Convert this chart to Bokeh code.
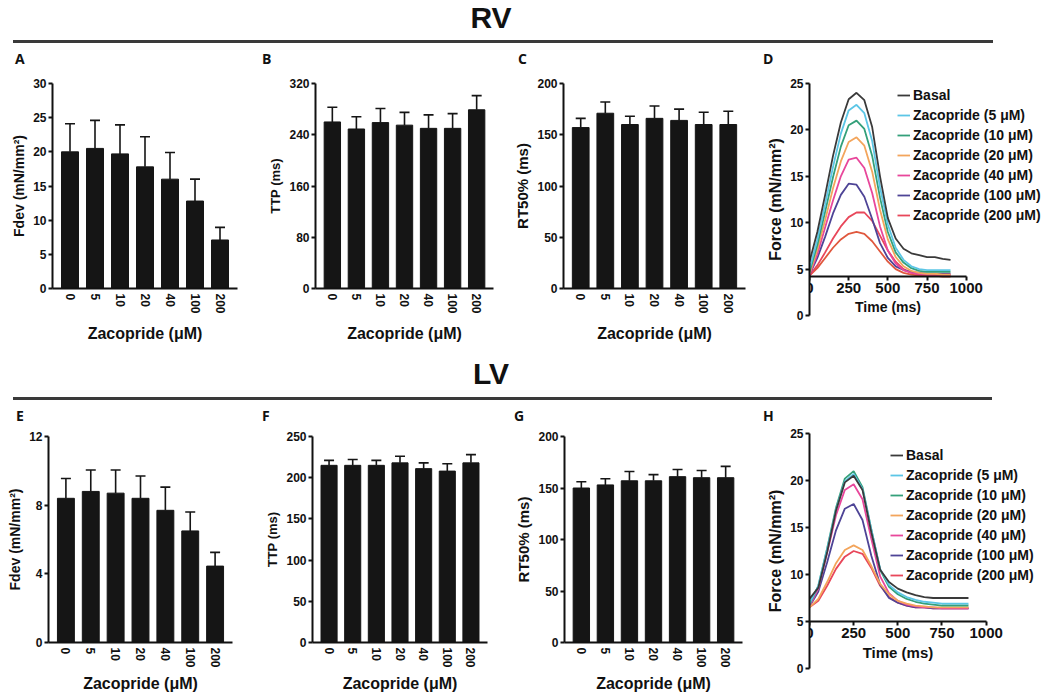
from bokeh.plotting import figure
from bokeh.models import (ColumnDataSource, FactorRange, Range1d, FixedTicker, Whisker,
                          TeeHead, Legend, LegendItem, Div)
from bokeh.layouts import column, row
from bokeh.embed import file_html
from bokeh.resources import INLINE

# ---------------- data ----------------
doses = ["0", "5", "10", "20", "40", "100", "200"]

rv_fdev_mean = [20.0, 20.5, 19.7, 17.8, 16.0, 12.8, 7.1]
rv_fdev_err = [4.1, 4.1, 4.25, 4.4, 3.9, 3.2, 1.85]
rv_ttp_mean = [260, 249, 259, 255, 250, 250, 279]
rv_ttp_err = [23, 19, 22, 20, 21, 23, 22]
rv_rt50_mean = [157, 171, 160, 166, 164, 160, 160]
rv_rt50_err = [9, 11, 8, 12, 11, 12, 13]

lv_fdev_mean = [8.4, 8.8, 8.7, 8.4, 7.7, 6.5, 4.45]
lv_fdev_err = [1.15, 1.25, 1.35, 1.3, 1.35, 1.1, 0.8]
lv_ttp_mean = [215, 215, 215, 218, 211, 208, 218]
lv_ttp_err = [6, 7, 6, 8, 7, 9, 10]
lv_rt50_mean = [150, 153, 157, 157, 161, 160, 160]
lv_rt50_err = [6, 6, 9, 6, 7, 7, 11]

time_ms = [0, 50, 100, 150, 200, 250, 300, 350, 400, 450, 500, 550, 600, 650, 700, 750, 800, 850, 900]

rv_basal = [5.8, 9.0, 13.0, 17.2, 20.8, 23.3, 24.0, 23.2, 20.3, 15.0, 10.5, 8.3, 7.2, 6.7, 6.5, 6.3, 6.3, 6.1, 6.0]
rv_z5 = [5.0, 8.2, 12.0, 16.0, 19.6, 22.1, 22.7, 21.8, 18.8, 13.8, 9.8, 7.3, 6.0, 5.3, 5.0, 4.9, 4.9, 4.9, 4.9]
rv_z10 = [4.7, 7.6, 11.2, 14.9, 18.2, 20.5, 21.0, 20.1, 17.2, 12.7, 9.0, 6.8, 5.7, 5.1, 4.8, 4.7, 4.7, 4.7, 4.7]
rv_z20 = [4.5, 7.1, 10.3, 13.7, 16.6, 18.7, 19.2, 18.3, 15.5, 11.4, 8.2, 6.3, 5.3, 4.8, 4.6, 4.5, 4.5, 4.4, 4.4]
rv_z40 = [4.4, 6.6, 9.5, 12.4, 15.0, 16.8, 17.0, 15.9, 13.2, 9.6, 7.0, 5.6, 4.9, 4.6, 4.5, 4.4, 4.4, 4.4, 4.4]
rv_z100 = [4.4, 6.2, 8.5, 11.0, 13.0, 14.2, 14.1, 12.8, 10.4, 7.8, 6.2, 5.3, 4.9, 4.7, 4.6, 4.5, 4.5, 4.5, 4.5]
rv_z200 = [4.3, 5.4, 6.8, 8.3, 9.6, 10.6, 11.1, 11.1, 10.2, 8.6, 7.0, 5.8, 5.0, 4.6, 4.4, 4.3, 4.3, 4.3, 4.3]
rv_extra = [4.3, 5.1, 6.2, 7.3, 8.2, 8.8, 9.0, 8.8, 8.0, 6.9, 5.8, 5.0, 4.6, 4.4, 4.3, 4.3, 4.3, 4.2, 4.2]

lv_basal = [7.4, 8.6, 12.4, 16.8, 19.8, 20.5, 19.0, 14.5, 10.5, 9.2, 8.5, 8.1, 7.8, 7.6, 7.5, 7.5, 7.5, 7.5, 7.5]
lv_z5 = [6.9, 8.8, 12.7, 16.9, 19.9, 20.7, 19.1, 14.8, 10.6, 8.9, 8.1, 7.6, 7.3, 7.1, 7.0, 6.9, 6.9, 6.9, 6.9]
lv_z10 = [6.8, 8.8, 12.8, 17.1, 20.2, 21.0, 19.3, 14.8, 10.5, 8.7, 7.9, 7.4, 7.1, 6.9, 6.8, 6.7, 6.7, 6.7, 6.7]
lv_z20 = [6.5, 7.4, 9.2, 11.2, 12.6, 13.1, 12.6, 10.9, 9.0, 7.9, 7.2, 6.9, 6.7, 6.6, 6.5, 6.5, 6.5, 6.5, 6.5]
lv_z40 = [6.6, 8.5, 12.3, 16.3, 19.0, 19.6, 18.0, 13.8, 9.8, 8.0, 7.2, 6.8, 6.6, 6.5, 6.5, 6.4, 6.4, 6.4, 6.4]
lv_z100 = [6.6, 8.2, 11.3, 14.7, 17.0, 17.5, 15.8, 12.0, 8.9, 7.5, 7.0, 6.7, 6.5, 6.5, 6.4, 6.4, 6.4, 6.4, 6.4]
lv_z200 = [6.5, 7.2, 8.8, 10.6, 11.9, 12.5, 12.2, 10.7, 8.8, 7.6, 7.0, 6.7, 6.5, 6.5, 6.4, 6.4, 6.4, 6.4, 6.4]

legend_labels = ["Basal", "Zacopride (5 \u03bcM)", "Zacopride (10 \u03bcM)", "Zacopride (20 \u03bcM)",
                 "Zacopride (40 \u03bcM)", "Zacopride (100 \u03bcM)", "Zacopride (200 \u03bcM)"]
curve_colors = ["#3a3a3a", "#5cc6e6", "#34a07a", "#f3a55c", "#e8479b", "#4e4496", "#e8475a"]
extra_color = "#e0583e"

FONT = "Liberation Sans"
INK = "#111111"
XLABEL = "Zacopride (\u03bcM)"


def base_style(p):
    p.outline_line_color = None
    p.xgrid.grid_line_color = None
    p.ygrid.grid_line_color = None
    p.background_fill_color = "white"
    p.border_fill_color = "white"
    for ax in (p.xaxis[0], p.yaxis[0]):
        ax.axis_line_width = 2
        ax.axis_line_color = INK
        ax.major_tick_line_width = 2
        ax.major_tick_line_color = INK
        ax.major_tick_out = 4
        ax.major_tick_in = 0
        ax.minor_tick_line_color = None
        ax.major_label_text_font = FONT
        ax.major_label_text_font_style = "bold"
        ax.major_label_text_color = INK
        ax.axis_label_text_font = FONT
        ax.axis_label_text_font_style = "bold"
        ax.axis_label_text_color = INK


def bar_panel(means, errs, ymax, ticks, ylabel, ylabel_size, bl, fw, br, bt, fh, bb, xlab_standoff):
    p = figure(x_range=FactorRange(factors=doses, range_padding=0.2, range_padding_units="absolute"),
               y_range=Range1d(0, ymax), width=bl + fw + br, height=bt + fh + bb,
               min_border_left=bl, min_border_right=br, min_border_top=bt, min_border_bottom=bb,
               toolbar_location=None, tools="", output_backend="svg")
    base_style(p)
    src = ColumnDataSource(dict(dose=doses, mean=means, upper=[m + e for m, e in zip(means, errs)]))
    p.vbar(x="dose", top="mean", bottom=0, width=0.68, source=src,
           fill_color="#151515", line_color="#151515", line_width=1)
    p.add_layout(Whisker(base="dose", lower="mean", upper="upper", source=src, lower_head=None,
                         upper_head=TeeHead(size=10, line_width=1.6, line_color="#151515"),
                         line_width=1.6, line_color="#151515"))
    p.yaxis.ticker = FixedTicker(ticks=ticks)
    p.yaxis.axis_label = ylabel
    p.yaxis.axis_label_text_font_size = ylabel_size
    p.yaxis.major_label_text_font_size = "12px"
    p.yaxis.major_label_standoff = 2
    p.yaxis.axis_label_standoff = 3
    p.xaxis.axis_label = XLABEL
    p.xaxis.axis_label_text_font_size = "16px"
    p.xaxis.major_label_text_font_size = "12px"
    p.xaxis.major_label_orientation = "vertical"
    p.xaxis.major_tick_line_color = None
    p.xaxis.major_tick_out = 0
    p.xaxis.major_label_standoff = 5
    p.xaxis.axis_label_standoff = xlab_standoff
    return p


def curve_panel(series, extra, xaxis_at, x_end, bl, fw, bt, fh, bb, ylabel_size, xlabel_size, leg_loc,
                fixed_frame=False):
    kw = dict(x_range=Range1d(0, x_end), y_range=Range1d(0, 25),
              min_border_left=bl, min_border_right=0, min_border_top=bt, min_border_bottom=bb,
              toolbar_location=None, tools="", output_backend="svg")
    if fixed_frame:
        kw.update(frame_width=fw, frame_height=fh)
    else:
        kw.update(width=bl + fw, height=bt + fh + bb)
    p = figure(**kw)
    base_style(p)
    p.xaxis.fixed_location = xaxis_at
    p.xaxis.bounds = (0, 1000)
    p.xaxis.ticker = FixedTicker(ticks=[0, 250, 500, 750, 1000])
    p.yaxis.ticker = FixedTicker(ticks=[0, 5, 10, 15, 20, 25])
    p.yaxis.axis_label = "Force (mN/mm\u00b2)"
    p.yaxis.axis_label_text_font_size = ylabel_size
    p.yaxis.major_label_text_font_size = "12px"
    p.yaxis.major_label_standoff = 2
    p.yaxis.axis_label_standoff = 3
    p.xaxis.axis_label = "Time (ms)"
    p.xaxis.axis_label_text_font_size = xlabel_size
    p.xaxis.major_label_text_font_size = "15px"
    p.xaxis.major_label_standoff = 2
    p.xaxis.axis_label_standoff = 3
    if extra is not None:
        p.line(time_ms, extra, line_color=extra_color, line_width=1.8)
    items = []
    for lab, col, ys in reversed(list(zip(legend_labels, curve_colors, series))):
        r = p.line(time_ms, ys, line_color=col, line_width=1.8)
        items.insert(0, LegendItem(label=lab, renderers=[r]))
    leg = Legend(items=items, location=leg_loc, glyph_width=13, glyph_height=20, label_height=20,
                 spacing=0, padding=0, margin=0, label_standoff=3, border_line_color=None,
                 background_fill_alpha=0, label_text_font=FONT, label_text_font_style="bold",
                 label_text_font_size="14px", label_text_color=INK)
    p.add_layout(leg)
    return p


# ---------------- headers (titles, rules, panel letters) ----------------
def big_text(text, top):
    return (f"<div style='position:absolute;left:0;top:{top}px;width:982px;text-align:center;"
            f"font-family:\"Liberation Sans\";font-weight:bold;font-size:30px;line-height:normal;"
            f"color:#111;'>{text}</div>")


def rule(left, top, width):
    return (f"<div style='position:absolute;left:{left}px;top:{top}px;width:{width}px;height:3px;"
            f"background:#3a3a3a;'></div>")


def letter(text, left, top):
    return (f"<div style='position:absolute;left:{left}px;top:{top}px;font-family:\"Open Sans\";"
            f"font-weight:bold;font-size:14px;line-height:14px;color:#111;'>{text}</div>")


def hdiv(w, h, parts):
    html = f"<div style='position:relative;width:{w}px;height:{h}px;'>" + "".join(parts) + "</div>"
    return Div(text=html, width=w, height=h, margin=(0, 0, 0, 0))


LW, RW = 763, 279
hdr_rv_l = hdiv(LW, 66, [big_text("RV", 1), rule(13, 40, 750),
                         letter("A", 15, 52), letter("B", 262, 52), letter("C", 518, 52)])
hdr_rv_r = hdiv(RW, 66, [rule(0, 40, 230), letter("D", 0, 52)])
hdr_lv_l = hdiv(LW, 80, [big_text("LV", 12), rule(13, 52, 750),
                         letter("E", 16, 64), letter("F", 262, 64), letter("G", 514, 64)])
hdr_lv_r = hdiv(RW, 40, [rule(0, 12, 229), letter("H", 0, 24)])

# ---------------- panels ----------------
pA = bar_panel(rv_fdev_mean, rv_fdev_err, 30, [0, 5, 10, 15, 20, 25, 30], "Fdev (mN/mm\u00b2)", "14px",
               52, 185, 28, 17, 205, 57, 8)
pB = bar_panel(rv_ttp_mean, rv_ttp_err, 320, [0, 80, 160, 240, 320], "TTP (ms)", "13px",
               48, 180, 18, 17, 205, 57, 8)
pC = bar_panel(rv_rt50_mean, rv_rt50_err, 200, [0, 50, 100, 150, 200], "RT50% (ms)", "15px",
               52, 182, 18, 17, 205, 57, 8)
pD = curve_panel([rv_basal, rv_z5, rv_z10, rv_z20, rv_z40, rv_z100, rv_z200], rv_extra, 4.2, 1487,
                 46, 233, 17, 232, 70, "16px", "14px", (88, 90))

pE = bar_panel(lv_fdev_mean, lv_fdev_err, 12, [0, 4, 8, 12], "Fdev (mN/mm\u00b2)", "14px",
               48, 184, 30, 11, 206, 54, 4)
pF = bar_panel(lv_ttp_mean, lv_ttp_err, 250, [0, 50, 100, 150, 200, 250], "TTP (ms)", "13px",
               46, 179, 25, 11, 206, 54, 4)
pG = bar_panel(lv_rt50_mean, lv_rt50_err, 200, [0, 50, 100, 150, 200], "RT50% (ms)", "15px",
               48, 182, 21, 11, 206, 54, 4)
pH = curve_panel([lv_basal, lv_z5, lv_z10, lv_z20, lv_z40, lv_z100, lv_z200], None, 5.0, 1353,
                 40, 239, 8, 235, 10, "16px", "15px", (82, 83), fixed_frame=True)

left_col = column(hdr_rv_l, row(pA, pB, pC), hdr_lv_l, row(pE, pF, pG))
right_col = column(hdr_rv_r, pD, hdr_lv_r, pH)
layout = row(left_col, right_col, height=699, styles={"overflow": "hidden"})

open("out.html", "w").write(file_html(layout, INLINE))
